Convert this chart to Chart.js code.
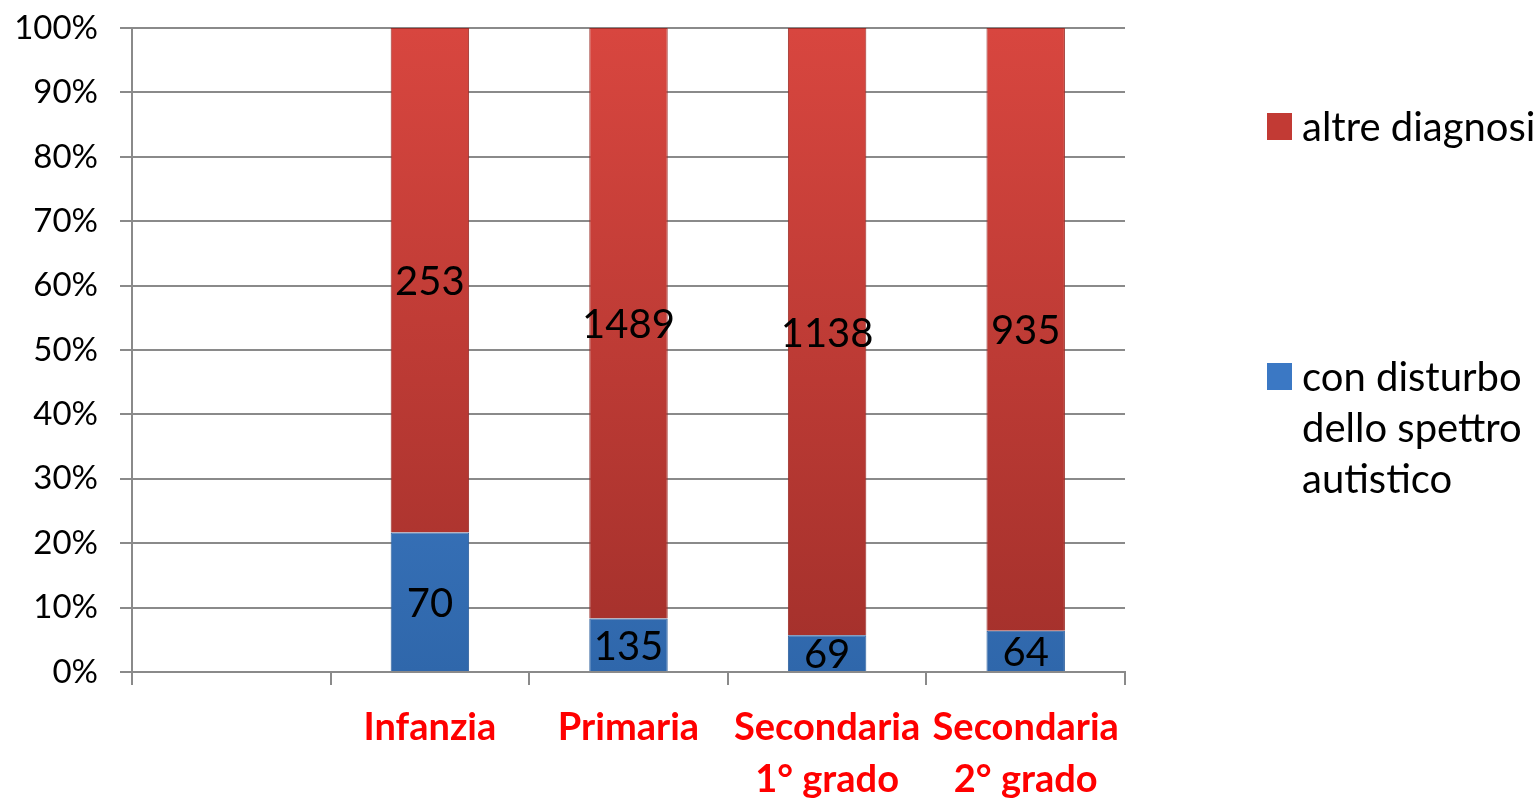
<!DOCTYPE html>
<html>
<head>
<meta charset="utf-8">
<script src="https://cdn.jsdelivr.net/npm/chart.js@4.4.1/dist/chart.umd.min.js"></script>
<style>
  html, body { margin: 0; padding: 0; background: #fff; }
  #wrap { position: relative; width: 1540px; height: 799px; }
  #legend { position: absolute; left: 1267px; top: 101px; font-family: Lato, sans-serif; font-size: 40px; line-height: 51px; color: #000; }
  .item { display: flex; align-items: flex-start; margin-bottom: 199px; }
  .box { width: 25px; height: 27px; margin-top: 12px; margin-right: 10px; flex: none; }
</style>
</head>
<body>
<div id="wrap">
  <canvas id="myChart" width="1540" height="799"></canvas>
  <div id="legend"></div>
</div>
<script>
// categories (first slot is empty in the original)
const categories = ['', 'Infanzia', 'Primaria', ['Secondaria', '1° grado'], ['Secondaria', '2° grado']];
const autismCounts = [null, 70, 135, 69, 64];
const otherCounts = [null, 253, 1489, 1138, 935];
const yTicks = [0, 10, 20, 30, 40, 50, 60, 70, 80, 90, 100];

const seriesNames = {
  other: 'altre diagnosi',
  autism: ['con disturbo', 'dello spettro', 'autistico']
};

function pct(part, other) {
  return part.map((v, i) => v == null ? null : 100 * v / (v + other[i]));
}
const autismPct = pct(autismCounts, otherCounts);
const otherPct = pct(otherCounts, autismCounts);

function vGrad(ctx, top, bottom) {
  const chart = ctx.chart;
  const a = chart.chartArea;
  if (!a) return top;
  const g = chart.ctx.createLinearGradient(0, a.top, 0, a.bottom);
  g.addColorStop(0, top);
  g.addColorStop(1, bottom);
  return g;
}

const valueLabels = {
  id: 'valueLabels',
  afterDatasetsDraw(chart) {
    const ctx = chart.ctx;
    ctx.save();
    ctx.font = '40px Lato, sans-serif';
    ctx.fillStyle = '#000';
    ctx.textAlign = 'center';
    ctx.textBaseline = 'middle';
    chart.data.datasets.forEach((ds, di) => {
      const meta = chart.getDatasetMeta(di);
      meta.data.forEach((bar, i) => {
        const raw = ds.counts[i];
        if (raw == null) return;
        ctx.fillText(String(raw), bar.x, (bar.y + bar.base) / 2 + 2);
      });
    });
    ctx.restore();
  }
};

const ctx = document.getElementById('myChart');

new Chart(ctx, {
  type: 'bar',
  data: {
    labels: categories,
    datasets: [
      {
        label: 'con disturbo dello spettro autistico',
        data: autismPct,
        counts: autismCounts,
        backgroundColor: (c) => vGrad(c, '#4a8ad8', '#2f67ab'),
        borderColor: '#2d5f9c',
        borderWidth: 1,
        barPercentage: 0.395,
        categoryPercentage: 1
      },
      {
        label: 'altre diagnosi',
        data: otherPct,
        counts: otherCounts,
        backgroundColor: (c) => vGrad(c, '#d8463f', '#a3302b'),
        borderColor: '#9a2e29',
        borderWidth: 1,
        barPercentage: 0.395,
        categoryPercentage: 1
      }
    ]
  },
  options: {
    responsive: false,
    animation: false,
    layout: { padding: { top: 0, right: 415, left: 0, bottom: 0 } },
    plugins: {
      legend: { display: false },
      tooltip: { enabled: false }
    },
    scales: {
      x: {
        stacked: true,
        afterFit: (s) => { s.height = 127; },
        border: { color: '#8a8a8a', width: 2 },
        grid: {
          drawOnChartArea: false,
          color: '#8a8a8a',
          lineWidth: 2,
          tickLength: 13
        },
        ticks: {
          autoSkip: false,
          maxRotation: 0,
          minRotation: 0,
          color: '#ff0000',
          padding: 17,
          font: { family: 'Lato', size: 38, weight: 'bold', lineHeight: 1.37 }
        }
      },
      y: {
        stacked: true,
        min: 0,
        max: 100,
        afterFit: (s) => { s.width = 132; },
        afterBuildTicks: (s) => { s.ticks = yTicks.map(v => ({ value: v })); },
        border: { color: '#8a8a8a', width: 2 },
        grid: {
          color: '#8a8a8a',
          lineWidth: 2,
          tickLength: 12
        },
        ticks: {
          color: '#000',
          padding: 22,
          autoSkip: false,
          font: { family: 'Lato', size: 33, lineHeight: 0.37 },
          callback: (v) => v + '%'
        }
      }
    }
  },
  plugins: [valueLabels]
});

// legend (series order reversed like the original)
const legend = document.getElementById('legend');
[[seriesNames.other, '#c23a34'], [seriesNames.autism, '#3b78c4']].forEach(([name, col]) => {
  const item = document.createElement('div');
  item.className = 'item';
  const box = document.createElement('div');
  box.className = 'box';
  box.style.background = col;
  const txt = document.createElement('div');
  txt.innerHTML = [].concat(name).join('<br>');
  item.appendChild(box);
  item.appendChild(txt);
  legend.appendChild(item);
});
</script>
</body>
</html>
